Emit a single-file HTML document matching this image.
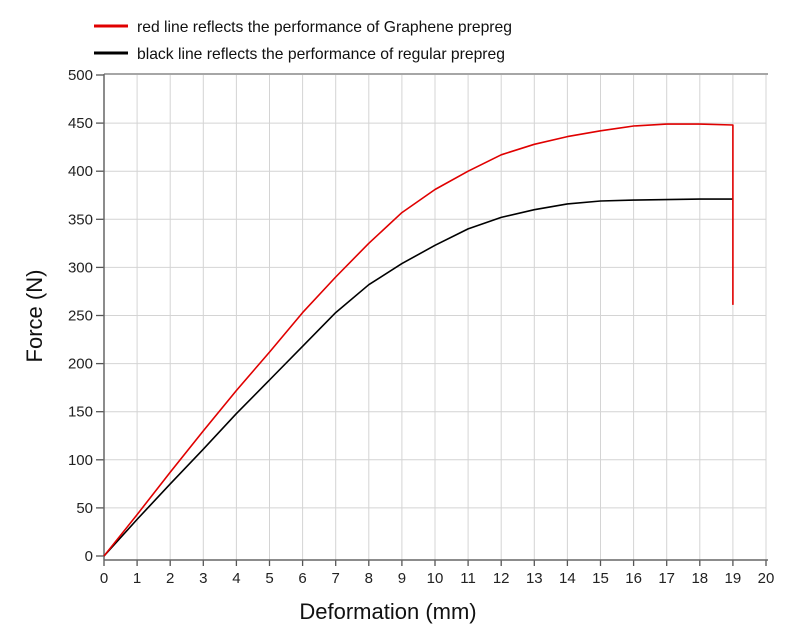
<!DOCTYPE html>
<html><head><meta charset="utf-8"><style>
body{margin:0;background:#fff;}
svg{display:block;font-family:"Liberation Sans",sans-serif;}
</style></head><body>
<svg id="chart" width="800" height="635" viewBox="0 0 800 635">
<g id="grid"></g>
<g id="axes"></g>
<g id="series"></g>
<g>
<g>
<line x1="94" y1="26" x2="128" y2="26" stroke="#e00000" stroke-width="3"/>
<text x="137" y="32" font-size="15.7" fill="#111">red line reflects the performance of Graphene prepreg</text></g>
<g>
<line x1="94" y1="53" x2="128" y2="53" stroke="#000" stroke-width="3"/>
<text x="137" y="59" font-size="15.7" fill="#111">black line reflects the performance of regular prepreg</text></g>
</g>
<text x="388" y="619" font-size="22" text-anchor="middle" fill="#111">Deformation (mm)</text>
<text transform="translate(42,316) rotate(-90)" font-size="22" text-anchor="middle" fill="#111">Force (N)</text>
</svg>
<script>
const xTicks=[0,1,2,3,4,5,6,7,8,9,10,11,12,13,14,15,16,17,18,19,20];
const yTicks=[0,50,100,150,200,250,300,350,400,450,500];
const redX=[0,1,2,3,4,5,6,7,8,9,10,11,12,13,14,15,16,17,18,19,19];
const redY=[0,43,87,130,172,212,253,290,325,357,381,400,417,428,436,442,447,449,449,448,261];
const blackX=[0,1,2,3,4,5,6,7,8,9,10,11,12,13,14,15,16,17,18,19];
const blackY=[0,38,75,111,148,183,218,253,282,304,323,340,352,360,366,369,370,370.5,371,371];
const X0=104,X1=766,Y0=556,Y1=75;
const sx=v=>X0+(v-0)/20*(X1-X0);
const sy=v=>Y0-(v/500)*(Y0-Y1);
const NS="http://www.w3.org/2000/svg";
function mk(t,a,p){const e=document.createElementNS(NS,t);for(const k in a)e.setAttribute(k,a[k]);p.appendChild(e);return e;}
const gridG=document.getElementById('grid'),axesG=document.getElementById('axes'),seriesG=document.getElementById('series');
xTicks.forEach(v=>{if(v>0){const l=mk('line',{x1:sx(v),x2:sx(v),y1:Y1,y2:560,stroke:'#d4d4d4','stroke-width':1},gridG);

}
const t=mk('line',{x1:sx(v),x2:sx(v),y1:560,y2:566,stroke:'#555','stroke-width':1.3},axesG);


const tx=mk('text',{x:sx(v),y:583,'font-size':15,'text-anchor':'middle',fill:'#222'},axesG);tx.textContent=v;

});
yTicks.forEach(v=>{if(v>0&&v<500){const l=mk('line',{x1:X0,x2:X1,y1:sy(v),y2:sy(v),stroke:'#d4d4d4','stroke-width':1},gridG);

}
const t=mk('line',{x1:96,x2:X0,y1:sy(v),y2:sy(v),stroke:'#555','stroke-width':1.3},axesG);


const tx=mk('text',{x:93,y:sy(v)+5,'font-size':15,'text-anchor':'end',fill:'#222'},axesG);tx.textContent=v;

});
const topBorder=mk('line',{x1:X0,x2:768,y1:Y1-1,y2:Y1-1,stroke:'#888','stroke-width':1.5},axesG);


const yAxisLine=mk('line',{x1:X0,x2:X0,y1:Y1-1,y2:560,stroke:'#666','stroke-width':1.5},axesG);


const xAxisLine=mk('line',{x1:X0,x2:768,y1:560,y2:560,stroke:'#666','stroke-width':1.5},axesG);


function drawLine(xs,ys,c,n){const d=xs.map((x,i)=>(i?'L':'M')+sx(x).toFixed(1)+','+sy(ys[i]).toFixed(1)).join('');
const p=mk('path',{d:d,fill:'none',stroke:c,'stroke-width':1.6,'stroke-linejoin':'round'},seriesG);

}
drawLine(blackX,blackY,'#000','regular-prepreg-line');
drawLine(redX,redY,'#e00000','graphene-prepreg-line');
</script>
</body></html>
